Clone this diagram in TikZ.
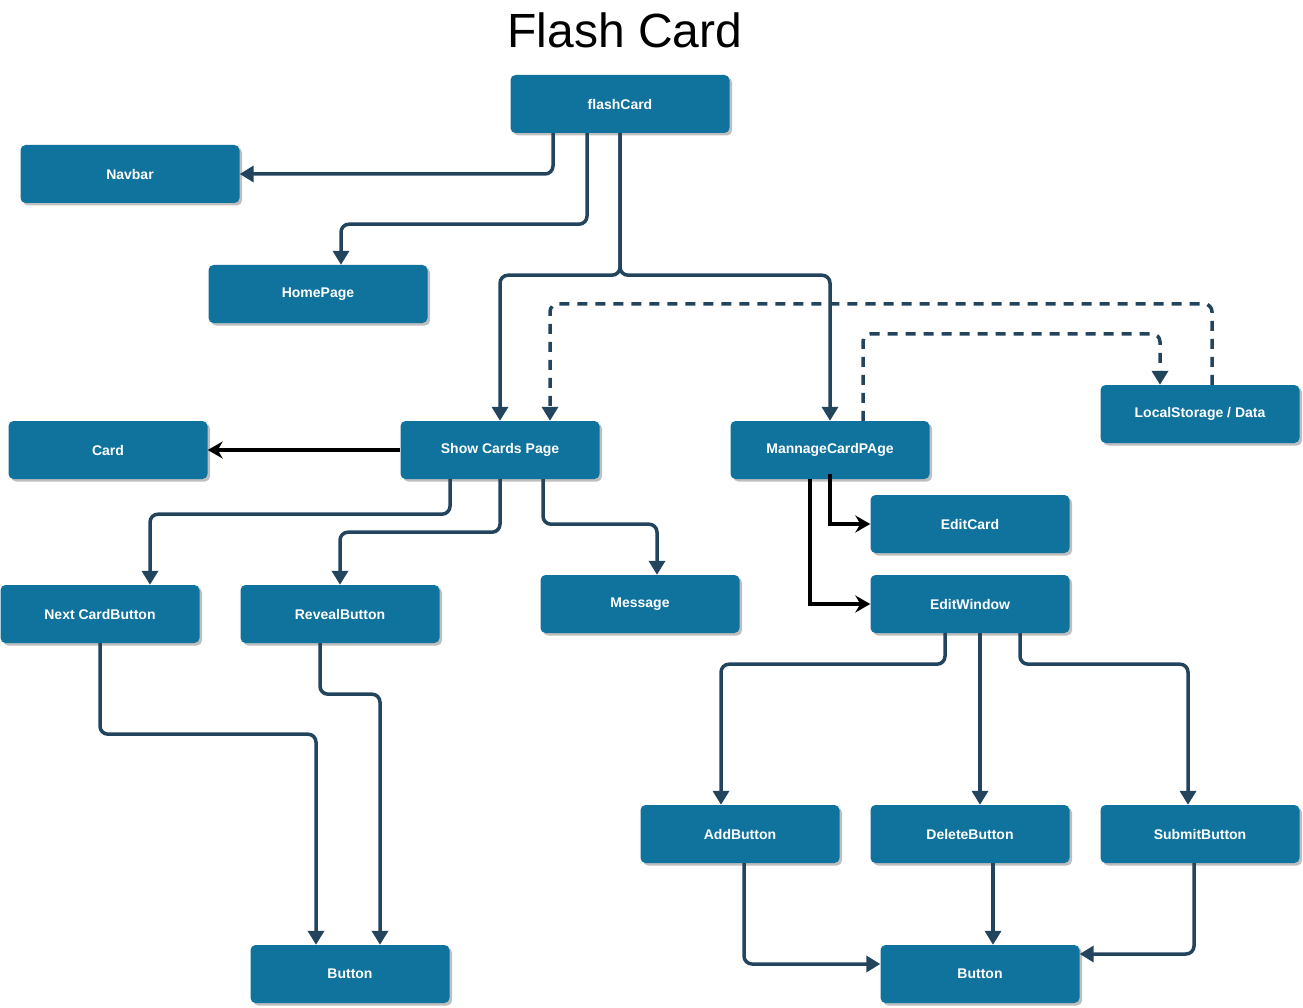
\documentclass[tikz,border=0pt]{standalone}
\usepackage{fontspec}
\setmainfont{Liberation Sans}
\usetikzlibrary{arrows.meta,shadows,calc}
\definecolor{boxblue}{HTML}{10739E}
\definecolor{edgeblue}{HTML}{23445D}
\tikzset{
  box/.style={rectangle, rounded corners=5pt, fill=boxblue, text=white,
    minimum width=199pt, minimum height=58pt, inner sep=0pt,
    font=\fontsize{14pt}{16pt}\selectfont\bfseries,
    drop shadow={shadow xshift=2.5pt, shadow yshift=-2.5pt, fill=black, opacity=0.25}},
  conn/.style={draw=edgeblue, line width=3.5pt, rounded corners=8pt,
    -{Triangle[width=16pt,length=14pt]}},
  dconn/.style={conn, dash pattern=on 10pt off 8pt},
  bconn/.style={draw=black, line width=3.5pt,
    -{Stealth[width=17pt,length=15pt,inset=5pt]}},
}
\begin{document}
\begin{tikzpicture}[x=1pt,y=-1pt]
\useasboundingbox (0,0) rectangle (1303,1008);
\node (title) at (625,30) {\fontsize{48pt}{54pt}\selectfont Flash Card};
\node[box, minimum width=219pt] (fc) at (620,104) {flashCard};
\node[box, minimum width=219pt] (nav) at (130,174) {Navbar};
\node[box, minimum width=219pt] (hp) at (318,294) {HomePage};
\node[box] (card) at (108,450) {Card};
\node[box] (sc) at (500,450) {Show Cards Page};
\node[box] (mc) at (830,450) {MannageCardPAge};
\node[box] (ls) at (1200,414) {LocalStorage / Data};
\node[box] (ec) at (970,524) {EditCard};
\node[box] (ew) at (970,604) {EditWindow};
\node[box] (nb) at (100,614) {Next CardButton};
\node[box] (rb) at (340,614) {RevealButton};
\node[box] (msg) at (640,604) {Message};
\node[box] (ab) at (740,834) {AddButton};
\node[box] (db) at (970,834) {DeleteButton};
\node[box] (sb) at (1200,834) {SubmitButton};
\node[box] (bl) at (350,974) {Button};
\node[box] (br) at (980,974) {Button};
% flashCard edges
\draw[conn] ([xshift=-67pt]fc.south) |- (nav.east);
\draw[conn] ([xshift=-33pt]fc.south) -- ++(0,91) -| ([xshift=23pt]hp.north);
\draw[conn] (fc.south) -- ++(0,142) -| (sc.north);
\draw[conn] (fc.south) -- ++(0,142) -| (mc.north);
% dashed
\draw[dconn] ([xshift=12pt]ls.north) -- ++(0,-81) -| ([xshift=50pt]sc.north);
\draw[dconn] ([xshift=33pt]mc.north) -- ++(0,-87) -| ([xshift=-40pt]ls.north);
% show cards
\draw[bconn] (sc.west) -- (card.east);
\draw[conn] ([xshift=-50pt]sc.south) -- ++(0,35) -| ([xshift=50pt]nb.north);
\draw[conn] (sc.south) -- ++(0,53) -| (rb.north);
\draw[conn] ([xshift=43pt]sc.south) -- ++(0,45) -| ([xshift=17pt]msg.north);
% manage
\draw[bconn] ([yshift=5pt]mc.south) |- (ec.west);
\draw[bconn] ([xshift=-20pt]mc.south) |- (ew.west);
% edit window
\draw[conn] ([xshift=-25pt]ew.south) -- ++(0,31) -| ([xshift=-19pt]ab.north);
\draw[conn] ([xshift=10pt]ew.south) -- ([xshift=10pt]db.north);
\draw[conn] ([xshift=50pt]ew.south) -- ++(0,31) -| ([xshift=-12pt]sb.north);
% to left button
\draw[conn] (nb.south) -- ++(0,91) -| ([xshift=-34pt]bl.north);
\draw[conn] ([xshift=-20pt]rb.south) -- ++(0,51) -| ([xshift=30pt]bl.north);
% to right button
\draw[conn] ([xshift=4pt]ab.south) |- ([yshift=10pt]br.west);
\draw[conn] ([xshift=23pt]db.south) -- ([xshift=13pt]br.north);
\draw[conn] ([xshift=-6pt]sb.south) |- ([yshift=20pt]br.east);
\end{tikzpicture}
\end{document}
